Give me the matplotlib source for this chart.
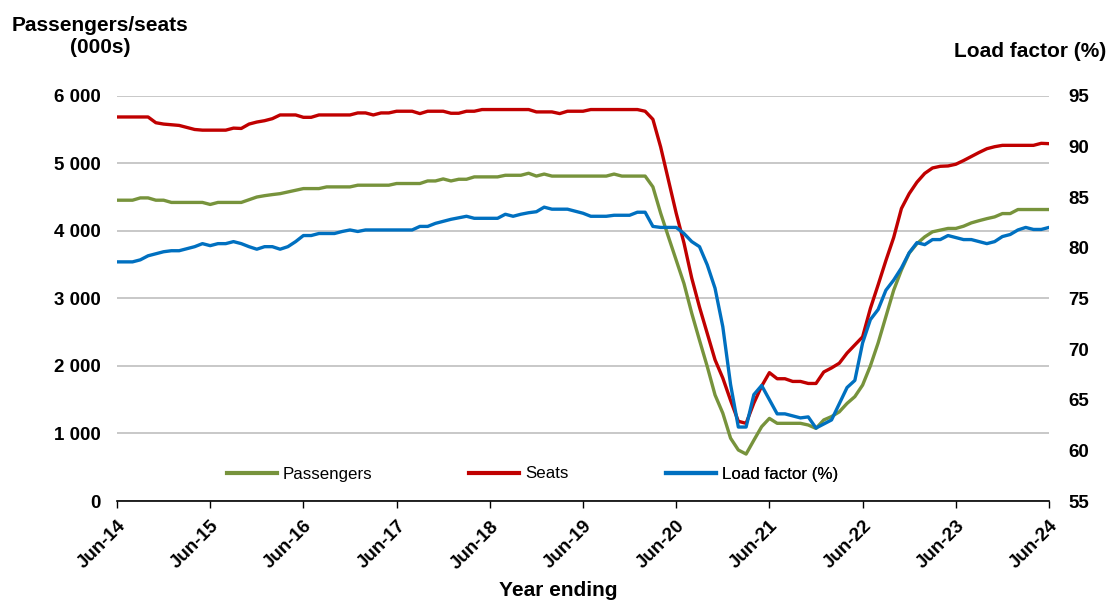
import matplotlib
matplotlib.use("Agg")
import matplotlib.pyplot as plt
from matplotlib.lines import Line2D

plt.rcParams['font.family'] = ['Liberation Sans', 'DejaVu Sans']

# ---- data (monthly, year ending Jun-14 .. Jun-24) ----
tick_labels = ["Jun-14", "Jun-15", "Jun-16", "Jun-17", "Jun-18", "Jun-19",
               "Jun-20", "Jun-21", "Jun-22", "Jun-23", "Jun-24"]

seats = [5685, 5685, 5685, 5685, 5685, 5600, 5580, 5570, 5560, 5530,
         5500, 5490, 5490, 5490, 5490, 5520, 5515, 5580, 5610, 5630,
         5660, 5715, 5715, 5715, 5680, 5680, 5715, 5715, 5715, 5715,
         5715, 5745, 5745, 5715, 5745, 5745, 5770, 5770, 5770, 5735,
         5770, 5770, 5770, 5740, 5740, 5770, 5770, 5795, 5795, 5795,
         5795, 5795, 5795, 5795, 5760, 5760, 5760, 5735, 5770, 5770,
         5770, 5795, 5795, 5795, 5795, 5795, 5795, 5795, 5770, 5650,
         5240, 4750, 4260, 3820, 3300, 2870, 2480, 2090, 1820, 1490,
         1180, 1150, 1450, 1700, 1900, 1810, 1810, 1770, 1770, 1740,
         1740, 1910, 1970, 2040, 2190, 2310, 2430, 2850, 3200, 3560,
         3900, 4330, 4550, 4720, 4850, 4930, 4955, 4960, 4985, 5040,
         5100, 5160, 5215, 5245, 5265, 5265, 5265, 5265, 5265, 5295,
         5290]

passengers = [4453, 4453, 4453, 4487, 4487, 4453, 4453, 4420, 4420, 4420,
              4420, 4420, 4390, 4420, 4420, 4420, 4420, 4460, 4500, 4520,
              4536, 4550, 4575, 4600, 4625, 4625, 4625, 4650, 4650, 4650,
              4650, 4675, 4675, 4675, 4675, 4675, 4700, 4700, 4700, 4700,
              4738, 4738, 4768, 4738, 4763, 4763, 4798, 4798, 4798, 4798,
              4822, 4822, 4822, 4852, 4810, 4840, 4810, 4810, 4810, 4810,
              4810, 4810, 4810, 4810, 4840, 4810, 4810, 4810, 4810, 4650,
              4260, 3910, 3565, 3220, 2780, 2380, 1990, 1570, 1300, 930,
              755, 695, 900, 1100, 1223, 1150, 1150, 1150, 1150, 1125,
              1075, 1200, 1250, 1320, 1445, 1545, 1716, 2000, 2340, 2730,
              3120, 3420, 3670, 3810, 3910, 3985, 4010, 4035, 4035, 4068,
              4117, 4150, 4180, 4206, 4255, 4255, 4315, 4315, 4315, 4315,
              4315]

load_factor = [78.6, 78.6, 78.6, 78.8, 79.2, 79.4, 79.6, 79.7, 79.7, 79.9,
               80.1, 80.4, 80.2, 80.4, 80.4, 80.6, 80.4, 80.1, 79.85, 80.1,
               80.1, 79.85, 80.1, 80.6, 81.2, 81.2, 81.4, 81.4, 81.4, 81.6,
               81.75, 81.6, 81.75, 81.75, 81.75, 81.75, 81.75, 81.75, 81.75, 82.1,
               82.1, 82.4, 82.6, 82.8, 82.95, 83.1, 82.9, 82.9, 82.9, 82.9,
               83.3, 83.1, 83.3, 83.45, 83.55, 84.0, 83.8, 83.8, 83.8, 83.6,
               83.4, 83.1, 83.1, 83.1, 83.2, 83.2, 83.2, 83.5, 83.5, 82.1,
               82.0, 82.0, 82.0, 81.4, 80.6, 80.1, 78.3, 76.0, 72.2, 66.5,
               62.3, 62.3, 65.5, 66.4, 65.0, 63.6, 63.6, 63.4, 63.2, 63.3,
               62.2, 62.6, 63.0, 64.6, 66.2, 66.9, 70.6, 72.9, 73.9, 75.8,
               76.8, 78.0, 79.5, 80.5, 80.3, 80.8, 80.8, 81.2, 81.0, 80.8,
               80.8, 80.6, 80.4, 80.6, 81.1, 81.3, 81.75, 82.0, 81.8, 81.8,
               82.0]

left_ticks = [0, 1000, 2000, 3000, 4000, 5000, 6000]
left_tick_labels = ["0", "1 000", "2 000", "3 000", "4 000", "5 000", "6 000"]
right_ticks = [55, 60, 65, 70, 75, 80, 85, 90, 95]

GREEN = "#77933C"
RED = "#C00000"
BLUE = "#0070C0"

months = list(range(len(seats)))

fig = plt.figure(figsize=(11.08, 6.01), dpi=100)
ax = fig.add_axes([117/1108, 1-501/601, (1049-117)/1108, (501-95.7)/601])
ax2 = ax.twinx()

ax.set_xlim(0, 120)
ax.set_ylim(0, 6000)
ax2.set_ylim(55, 95)

ax.set_yticks(left_ticks)
ax.set_yticklabels(left_tick_labels, fontsize=13.5, fontweight='bold')
ax2.set_yticks(right_ticks)
ax2.set_yticklabels([str(t) for t in right_ticks], fontsize=13.5, fontweight='bold')
ax.tick_params(axis='y', length=0, pad=12)
ax2.tick_params(axis='y', length=0, pad=14)

ax.set_xticks(list(range(0, 121, 12)))
ax.set_xticklabels(tick_labels, fontsize=13.5, fontweight='bold',
                   rotation=45, ha='right', va='top', rotation_mode='anchor')
ax.tick_params(axis='x', length=5, width=1, direction='out', pad=7, color='black')

ax.yaxis.grid(True, color='#BFBFBF', linewidth=1.2)
ax.set_axisbelow(True)
for sp in ['left', 'right', 'top']:
    ax.spines[sp].set_visible(False)
    ax2.spines[sp].set_visible(False)
ax2.spines['bottom'].set_visible(False)
ax.spines['bottom'].set_color('black')
ax.spines['bottom'].set_linewidth(1.2)
ax.spines['bottom'].set_zorder(5)

lw = 2.4
lp, = ax.plot(months, passengers, color=GREEN, lw=lw, label='Passengers', solid_joinstyle='round')
ls, = ax.plot(months, seats, color=RED, lw=lw, label='Seats', solid_joinstyle='round')
ll, = ax2.plot(months, load_factor, color=BLUE, lw=lw, label='Load factor (%)', solid_joinstyle='round')

# legends, one entry each, positioned like the reference
leg_y = (501 - 474) / (501 - 95.7)
for handle, xpix in [(lp, 227), (ls, 469), (ll, 666)]:
    lg = ax2.legend([Line2D([], [], color=handle.get_color(), lw=3)], [handle.get_label()],
                    loc='center left', bbox_to_anchor=((xpix - 117) / 932, leg_y),
                    frameon=False, fontsize=12.2, handlelength=2.95, handletextpad=0.35,
                    borderpad=0, borderaxespad=0)
    ax2.add_artist(lg)

fig.text(100/1108, 1-36.5/601, "Passengers/seats\n(000s)", ha='center', va='center',
         fontsize=15, fontweight='bold', linespacing=1.15)
fig.text(1106/1108, 1-51.7/601, "Load factor (%)", ha='right', va='center',
         fontsize=15, fontweight='bold')
fig.text(558/1108, 1-591/601, "Year ending", ha='center', va='center',
         fontsize=15, fontweight='bold')

fig.savefig("out.png", dpi=100)
